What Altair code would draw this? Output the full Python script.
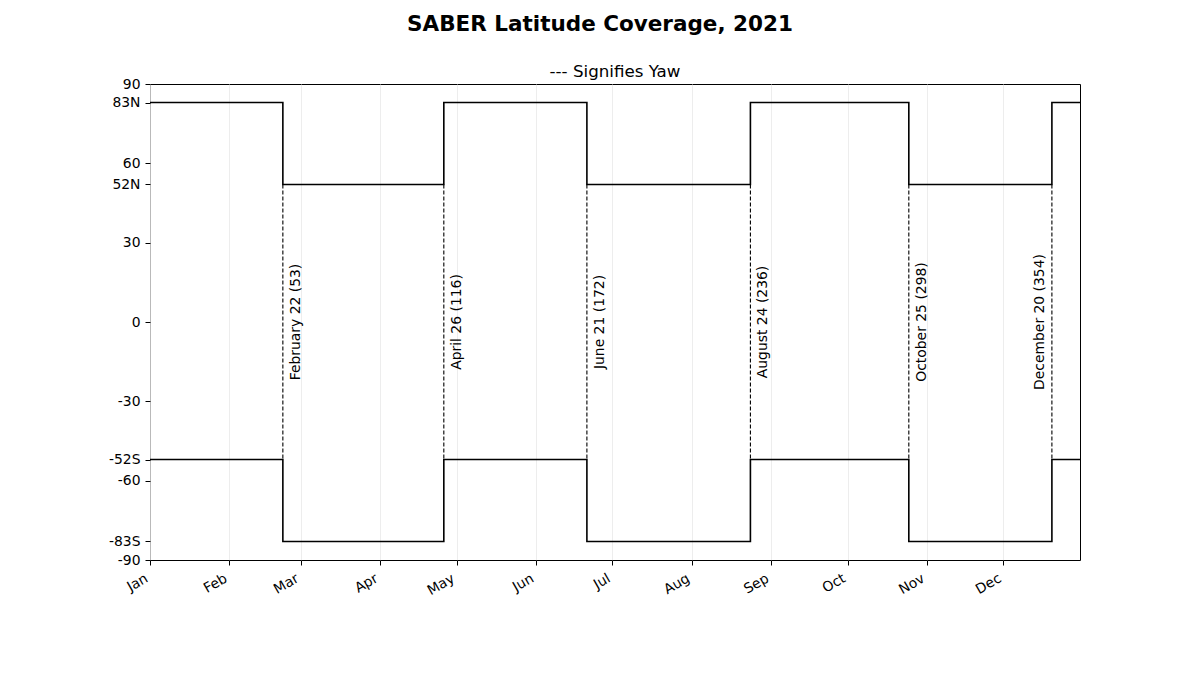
import altair as alt
import pandas as pd
from datetime import date, timedelta

YEAR = 2021
# Yaw days (day of year) and their labels
yaw_days = [53, 116, 172, 236, 298, 354]
yaw_labels = ["February 22 (53)", "April 26 (116)", "June 21 (172)",
              "August 24 (236)", "October 25 (298)", "December 20 (354)"]
label_side = ["right", "right", "right", "right", "right", "left"]

# Coverage limits for each period between yaws (start, yaw1, ..., yaw6)
north_lat = [83, 52, 83, 52, 83, 52, 83]
south_lat = [-52, -83, -52, -83, -52, -83, -52]
end_day = 365

# Dashed yaw line extent
yaw_top = 52
yaw_bottom = -52

ytick_values = [90, 83, 60, 52, 30, 0, -30, -52, -60, -83, -90]
ytick_labels = ["90", "83N", "60", "52N", "30", "0", "-30", "-52S", "-60", "-83S", "-90"]
month_numbers = list(range(1, 13))


def doy_to_iso(d):
    return (date(YEAR, 1, 1) + timedelta(days=d - 1)).isoformat()


starts = [1] + yaw_days
rows = []
for series, vals in (("north", north_lat), ("south", south_lat)):
    for d, v in zip(starts, vals):
        rows.append({"date": doy_to_iso(d), "lat": v, "series": series})
    rows.append({"date": doy_to_iso(end_day), "lat": vals[-1], "series": series})
lines_df = pd.DataFrame(rows)

yaw_df = pd.DataFrame({
    "date": [doy_to_iso(d) for d in yaw_days],
    "label": yaw_labels,
    "side": label_side,
    "top": [yaw_top] * len(yaw_days),
    "bottom": [yaw_bottom] * len(yaw_days),
})

FONT = "DejaVu Sans"

label_expr = " : ".join(
    [f"datum.value == {v} ? '{l}'" for v, l in zip(ytick_values, ytick_labels)]
) + " : datum.label"

x_scale = alt.Scale(
    type="utc",
    domain=[alt.DateTime(year=YEAR, month=1, date=1, utc=True),
            alt.DateTime(year=YEAR, month=12, date=31, utc=True)],
)
x_axis = alt.Axis(
    values=[alt.DateTime(year=YEAR, month=m, date=1, utc=True) for m in month_numbers],
    labelExpr="utcFormat(datum.value, '%b')", title=None,
    labelAngle=330, labelAlign="right", labelBaseline="top",
    labelPadding=6, labelOffset=-7,
    grid=True, gridColor="#e8e8e8", gridWidth=0.8,
    tickColor="black", tickSize=5, tickWidth=1,
    labelFont=FONT, labelFontSize=13.9, labelColor="black",
    domain=False,
)
y_scale = alt.Scale(domain=[-90, 90], nice=False, zero=False)
y_axis = alt.Axis(
    values=ytick_values, labelExpr=label_expr, title=None, grid=False,
    tickColor="black", tickSize=5, tickWidth=1, labelPadding=5,
    labelFont=FONT, labelFontSize=13.9, labelColor="black", domain=False,
)

base_x = alt.X("date:T", scale=x_scale, axis=x_axis)

lines = alt.Chart(lines_df).mark_line(
    interpolate="step-after", color="black", strokeWidth=1.6
).encode(
    x=base_x,
    y=alt.Y("lat:Q", scale=y_scale, axis=y_axis),
    detail="series:N",
)

rules = alt.Chart(yaw_df).mark_rule(
    color="black", strokeWidth=1.1, strokeDash=[4, 2]
).encode(
    x=alt.X("date:T", scale=x_scale),
    y=alt.Y("top:Q", scale=y_scale),
    y2="bottom:Q",
)

text_right = alt.Chart(yaw_df).transform_filter(
    alt.datum.side == "right"
).mark_text(
    angle=270, align="center", baseline="top", dy=6,
    font=FONT, fontSize=13.9, color="black"
).encode(
    x=alt.X("date:T", scale=x_scale),
    y=alt.datum(0),
    text="label:N",
)

text_left = alt.Chart(yaw_df).transform_filter(
    alt.datum.side == "left"
).mark_text(
    angle=270, align="center", baseline="bottom", dy=-5,
    font=FONT, fontSize=13.9, color="black"
).encode(
    x=alt.X("date:T", scale=x_scale),
    y=alt.datum(0),
    text="label:N",
)

subtitle = alt.Chart(pd.DataFrame({"t": ["--- Signifies Yaw"]})).mark_text(
    align="center", baseline="alphabetic", font=FONT, fontSize=16.7, color="black"
).encode(
    x=alt.value(465), y=alt.value(-7.5), text="t:N"
)

chart = alt.layer(lines, rules, text_right, text_left, subtitle).properties(
    width=930, height=476,
    title=alt.TitleParams(
        text="SABER Latitude Coverage, 2021",
        font=FONT, fontSize=21.5, fontWeight="bold", color="black",
        anchor="middle", frame="group", dx=-15, baseline="alphabetic", offset=11,
    ),
    autosize=alt.AutoSizeParams(type="none"),
    padding={"left": 142, "top": 76, "right": 100, "bottom": 110},
).configure(
    background="white"
).configure_view(
    stroke="black", strokeWidth=1
)

chart.save("out.html", embed_options={"renderer": "svg", "actions": False})
